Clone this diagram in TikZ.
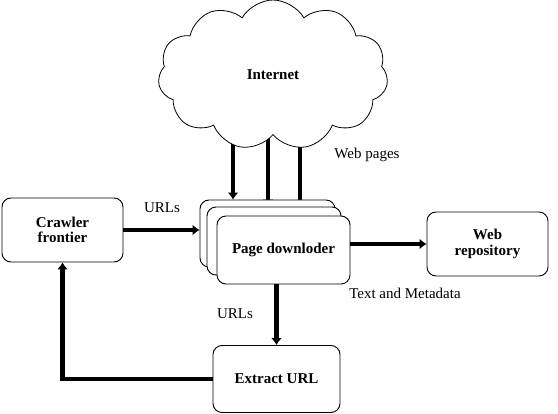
\documentclass[tikz,border=0pt]{standalone}
\usepackage{fontspec}
\setmainfont{Liberation Serif}
\usetikzlibrary{shapes.symbols, arrows.meta, positioning}
\pgfdeclarelayer{bg}
\pgfsetlayers{bg,main}

\begin{document}
\begin{tikzpicture}[x=1pt, y=-1pt,
	>={Latex[length=7pt, width=11pt]},   % Pfeilspitzen
	box/.style={draw, rounded corners=9pt, line width=0.9pt, fill=white, align=center,
		font=\fontsize{15}{15.5}\selectfont\bfseries},
	flow/.style={->, line width=4.5pt},
	lbl/.style={font=\fontsize{15}{16}\selectfont}]
	\useasboundingbox (0,0) rectangle (558,414);
	% Wolke
	\node[cloud, draw, fill=white, cloud puffs=11, cloud puff arc=120, aspect=1.5,
		minimum width=230pt, minimum height=150pt, line width=0.8pt,
		font=\fontsize{15}{16}\selectfont\bfseries] (internet) at (273,75) {Internet};
	% Kaesten
	\node[box, minimum width=121pt, minimum height=64pt] (crawler) at (62.5,230) {Crawler\\frontier};
	\node[box, minimum width=135pt, minimum height=67pt] (pdA) at (267.5,233.5) {};
	\node[box, minimum width=134pt, minimum height=68pt] (pdB) at (274,241) {};
	\node[box, minimum width=133pt, minimum height=68pt] (pd) at (283.5,250) {Page downloder};
	\node[box, minimum width=121pt, minimum height=64pt] (repo) at (487.5,244) {Web\\repository};
	\node[box, minimum width=127pt, minimum height=67pt] (extract) at (276.5,379) {Extract URL};
	% Beschriftung
	\node[lbl] (webpages) at (367,155) {Web pages};
	\node[lbl] (urlsA) at (162,208) {URLs};
	\node[lbl] (meta) at (405,293) {Text and Metadata};
	\node[lbl] (urlsB) at (235,314) {URLs};
	% Pfeile
	\begin{pgfonlayer}{bg}
		\foreach \x/\t in {233/pdA, 268/pdB, 300/pd}
			\draw[flow] (\x,0 |- internet.center) -- (\x,0 |- \t.north);
	\end{pgfonlayer}
	\draw[flow] (crawler.east) -- (crawler.east -| pdA.west);
	\draw[flow] (pd.east |- repo.west) -- (repo.west);
	\draw[flow] (pd.south -| extract.north) -- (extract.north);
	\draw[flow] (extract.west) -| (crawler.south);
\end{tikzpicture}
\end{document}
